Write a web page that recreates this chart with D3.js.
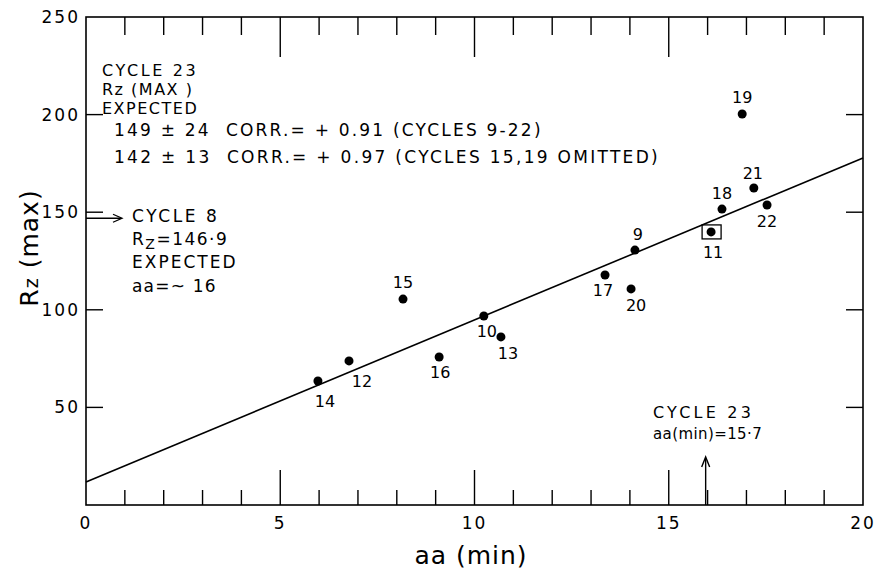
<!DOCTYPE html>
<html>
<head>
<meta charset="utf-8">
<script src="https://cdn.jsdelivr.net/npm/d3@7"></script>
<style>
  body { margin: 0; background: #fff; }
  text { font-family: "DejaVu Sans", sans-serif; fill: #000; white-space: pre; }
</style>
</head>
<body>
<div id="chart"></div>
<script>
// cycle numbers, aa(min) and Rz(max)
const cycles = [14, 12, 15, 16, 10, 13, 17, 20, 9, 11, 18, 22, 21, 19];
const aaMin  = [5.97, 6.77, 8.16, 9.09, 10.24, 10.68, 13.36, 14.03, 14.13, 16.09, 16.37, 17.53, 17.19, 16.89];
const rzMax  = [63.5, 73.8, 105.5, 75.8, 96.8, 86.1, 117.8, 110.7, 130.6, 139.9, 151.6, 153.7, 162.4, 200.3];
// label offsets (px) relative to each dot
const labelDx = [7, 13, 0, 1, 3, 7, -2, 5, 3, 2, 0, 0, -1, 0];
const labelDy = [20, 20, -17, 15, 15, 16, 15, 16, -16, 20, -16, 16, -15, -17];

// regression line ends
const fitX = [0, 20];
const fitY = [11.8, 177.8];

const xTicks = [0, 5, 10, 15, 20];
const yTicks = [50, 100, 150, 200, 250];

const W = 878, H = 570;
const mLeft = 86, mRight = 863, mTop = 17, mBottom = 505;

const x = d3.scaleLinear().domain([0, 20]).range([mLeft, mRight]);
const y = d3.scaleLinear().domain([0, 250]).range([mBottom, mTop]);

const svg = d3.select("#chart").append("svg")
  .attr("width", W).attr("height", H);

// frame
svg.append("rect")
  .attr("x", mLeft).attr("y", mTop)
  .attr("width", mRight - mLeft).attr("height", mBottom - mTop)
  .attr("fill", "none").attr("stroke", "#000").attr("stroke-width", 1.6);

// x ticks, every unit, long at 5s, on bottom and top edges
d3.range(1, 20).forEach(function(v) {
  var major = v % 5 === 0;
  svg.append("line")
    .attr("x1", x(v)).attr("x2", x(v))
    .attr("y1", mBottom).attr("y2", mBottom - (major ? 35 : 15))
    .attr("stroke", "#000").attr("stroke-width", 1.4);
  svg.append("line")
    .attr("x1", x(v)).attr("x2", x(v))
    .attr("y1", mTop).attr("y2", mTop + (major ? 40 : 18))
    .attr("stroke", "#000").attr("stroke-width", 1.4);
});

// y ticks both sides
yTicks.slice(0, 4).forEach(function(v) {
  svg.append("line")
    .attr("x1", mLeft).attr("x2", mLeft + 17)
    .attr("y1", y(v)).attr("y2", y(v))
    .attr("stroke", "#000").attr("stroke-width", 1.4);
  svg.append("line")
    .attr("x1", mRight).attr("x2", mRight - 17)
    .attr("y1", y(v)).attr("y2", y(v))
    .attr("stroke", "#000").attr("stroke-width", 1.4);
});

// tick labels
svg.selectAll(".xlab").data(xTicks).enter().append("text")
  .attr("x", d => x(d)).attr("y", 529)
  .attr("text-anchor", "middle")
  .style("font-size", "17px").style("letter-spacing", "2px")
  .text(d => d);

svg.selectAll(".ylab").data(yTicks).enter().append("text")
  .attr("x", 80).attr("y", d => y(d) + 6)
  .attr("text-anchor", "end")
  .style("font-size", "17px").style("letter-spacing", "2px")
  .text(d => d);

// axis titles
svg.append("text")
  .attr("x", 471).attr("y", 564)
  .attr("text-anchor", "middle")
  .style("font-size", "25px").style("letter-spacing", "1px")
  .text("aa (min)");

var yt = svg.append("text")
  .attr("transform", "translate(38,248) rotate(-90)")
  .attr("text-anchor", "middle")
  .style("font-size", "25px").style("letter-spacing", "1px");
yt.append("tspan").text("R");
yt.append("tspan").style("font-size", "19px").text("z");
yt.append("tspan").text(" (max)");

// regression line
svg.append("line")
  .attr("x1", x(fitX[0])).attr("y1", y(fitY[0]))
  .attr("x2", x(fitX[1])).attr("y2", y(fitY[1]))
  .attr("stroke", "#000").attr("stroke-width", 1.6);

// cycle 11 box
svg.append("rect")
  .attr("x", x(aaMin[9]) - 9).attr("y", y(rzMax[9]) - 7)
  .attr("width", 19).attr("height", 14)
  .attr("fill", "none").attr("stroke", "#000").attr("stroke-width", 1.3);

// points
svg.selectAll(".dot").data(cycles).enter().append("circle")
  .attr("cx", (d, i) => x(aaMin[i]))
  .attr("cy", (d, i) => y(rzMax[i]))
  .attr("r", 4.5).attr("fill", "#000");

svg.selectAll(".plab").data(cycles).enter().append("text")
  .attr("x", (d, i) => x(aaMin[i]) + labelDx[i])
  .attr("y", (d, i) => y(rzMax[i]) + labelDy[i] + 6)
  .attr("text-anchor", "middle")
  .style("font-size", "16px")
  .text(d => d);

// annotations
function ann(tx, ty, str, size, ls) {
  return svg.append("text").attr("x", tx).attr("y", ty)
    .style("font-size", (size || 17) + "px")
    .style("letter-spacing", (ls == null ? 2.2 : ls) + "px")
    .text(str);
}
ann(102, 76, "CYCLE 23", 16, 2.6);
ann(102, 95, "Rz (MAX )", 16, 1.5);
ann(102, 114, "EXPECTED", 16, 1.5);
ann(114, 136, "149 \u00b1 24  CORR.= + 0.91 (CYCLES 9-22)", 17, 2.2);
ann(114, 163, "142 \u00b1 13  CORR.= + 0.97 (CYCLES 15,19 OMITTED)", 17, 2.3);

ann(132, 222, "CYCLE 8", 17, 2.6);
var rz = ann(132, 245, "", 17, 1.5);
rz.append("tspan").text("R");
rz.append("tspan").attr("dy", 4).style("font-size", "14px").text("Z");
rz.append("tspan").attr("dy", -4).text("=146\u00b79");
ann(132, 268, "EXPECTED", 17, 2);
ann(132, 292, "aa=~ 16", 17, 1.2);

ann(653, 418, "CYCLE 23", 16, 3.2);
ann(653, 439, "aa(min)=15\u00b77", 15, 0.4);

// arrows
svg.append("line")
  .attr("x1", mLeft).attr("x2", 121)
  .attr("y1", y(146.9)).attr("y2", y(146.9))
  .attr("stroke", "#000").attr("stroke-width", 1.3);
svg.append("path")
  .attr("d", "M113," + (y(146.9) - 4) + " L122," + y(146.9) + " L113," + (y(146.9) + 4))
  .attr("fill", "none").attr("stroke", "#000").attr("stroke-width", 1.3);

var ax = x(15.95);
svg.append("line")
  .attr("x1", ax).attr("x2", ax)
  .attr("y1", 458).attr("y2", mBottom)
  .attr("stroke", "#000").attr("stroke-width", 1.4);
svg.append("path")
  .attr("d", "M" + (ax - 4) + ",467 L" + ax + ",457 L" + (ax + 4) + ",467")
  .attr("fill", "none").attr("stroke", "#000").attr("stroke-width", 1.4);
</script>
</body>
</html>
